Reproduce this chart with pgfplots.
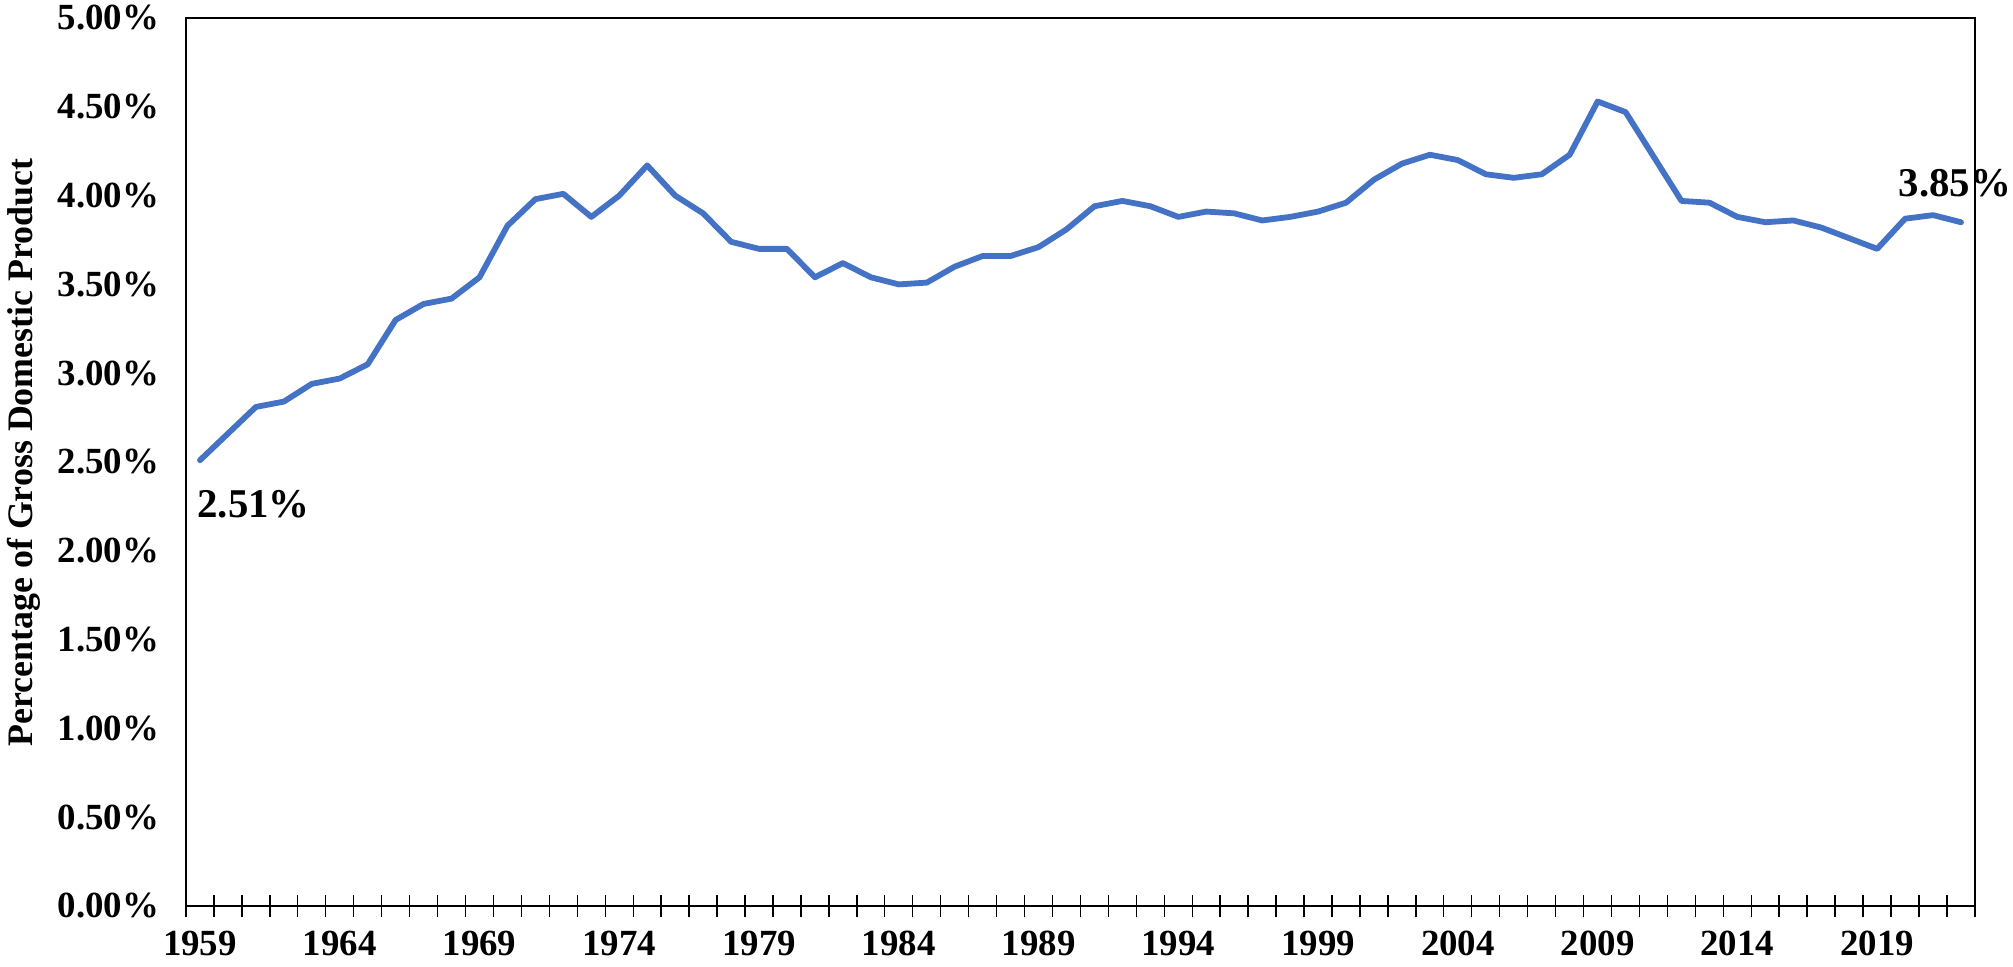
\documentclass[border=0pt]{standalone}
\usepackage{pgfplots}
\pgfplotsset{compat=1.18}
\usepackage{pgfplotstable}
\usepackage{fontspec}
\setmainfont{Liberation Serif}
\definecolor{excelblue}{HTML}{4472C4}

\pgfplotstableread{
year value
1959 2.51
1960 2.66
1961 2.81
1962 2.84
1963 2.94
1964 2.97
1965 3.05
1966 3.30
1967 3.39
1968 3.42
1969 3.54
1970 3.83
1971 3.98
1972 4.01
1973 3.88
1974 4.00
1975 4.17
1976 4.00
1977 3.90
1978 3.74
1979 3.70
1980 3.70
1981 3.54
1982 3.62
1983 3.54
1984 3.50
1985 3.51
1986 3.60
1987 3.66
1988 3.66
1989 3.71
1990 3.81
1991 3.94
1992 3.97
1993 3.94
1994 3.88
1995 3.91
1996 3.90
1997 3.86
1998 3.88
1999 3.91
2000 3.96
2001 4.09
2002 4.18
2003 4.23
2004 4.20
2005 4.12
2006 4.10
2007 4.12
2008 4.23
2009 4.53
2010 4.47
2011 4.22
2012 3.97
2013 3.96
2014 3.88
2015 3.85
2016 3.86
2017 3.82
2018 3.76
2019 3.70
2020 3.87
2021 3.89
2022 3.85
}\gdpdata

\begin{document}
\begin{tikzpicture}
\begin{axis}[
  name=ax,
  scale only axis,
  width=894.5bp, height=444bp,
  xmin=1958.5, xmax=2022.5,
  ymin=0, ymax=5,
  clip=false,
  axis line style={black, line width=0.7bp},
  every tick/.style={black, line width=0.7bp},
  major tick length=0pt,
  minor tick length=11bp,
  tick align=center,
  xtick pos=bottom, ytick pos=left,
  xtick={1959,1964,1969,1974,1979,1984,1989,1994,1999,2004,2009,2014,2019},
  xticklabels={1959,1964,1969,1974,1979,1984,1989,1994,1999,2004,2009,2014,2019},
  minor xtick={1958.5,1959.5,...,2022.5},
  ytick={0,0.5,1,1.5,2,2.5,3,3.5,4,4.5,5},
  yticklabels={0.00\%,0.50\%,1.00\%,1.50\%,2.00\%,2.50\%,3.00\%,3.50\%,4.00\%,4.50\%,5.00\%},
  ticklabel style={font=\fontsize{18.5}{20}\selectfont\bfseries},
  xticklabel style={yshift=-9bp},
  yticklabel style={xshift=-10bp},
  ylabel={Percentage of Gross Domestic Product},
  ylabel style={at={(axis description cs:-0.0906,0.5107)}, anchor=center, font=\fontsize{18}{20}\selectfont\bfseries},
]
\addplot[color=excelblue, line width=2.9bp, line join=round, line cap=round, mark=none] table[x=year, y=value] {\gdpdata};
\node[anchor=north west, inner sep=0pt, xshift=-1.5bp, yshift=-15bp, font=\fontsize{20.5}{22}\selectfont\bfseries] at (axis cs:1959,2.51) {2.51\%};
\node[anchor=south, inner sep=0pt, xshift=-3bp, yshift=12.5bp, font=\fontsize{20.5}{22}\selectfont\bfseries] at (axis cs:2022,3.85) {3.85\%};
\end{axis}
\pgfresetboundingbox
\path[use as bounding box] ([xshift=-93bp,yshift=-30.5bp]ax.south west) rectangle ([xshift=19bp,yshift=9bp]ax.north east);
\end{tikzpicture}
\end{document}
